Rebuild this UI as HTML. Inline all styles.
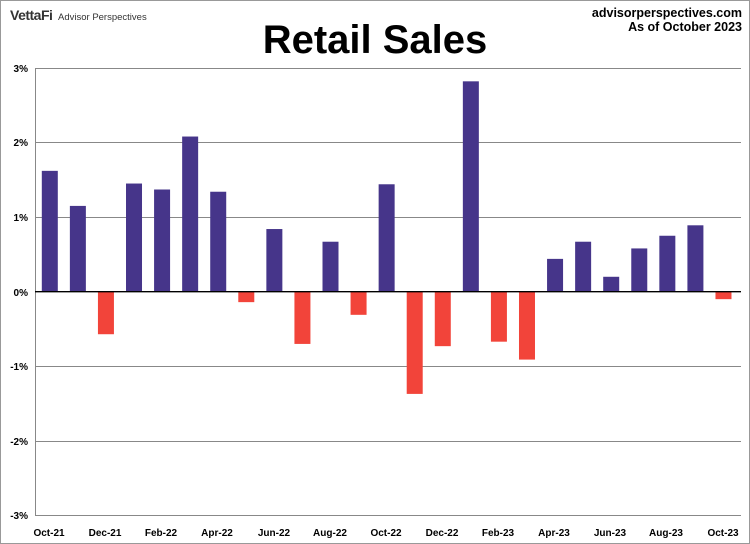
<!DOCTYPE html>
<html><head><style>
body{margin:0;background:#fff}
.w{position:relative;width:748px;height:542px;border:1px solid #999;font-family:"Liberation Sans",sans-serif;overflow:hidden}
</style></head><body><div class="w">
<svg width="748" height="542" style="position:absolute;left:0;top:0" font-family="Liberation Sans, sans-serif">
<text x="9" y="19" font-size="14" font-weight="bold" fill="#333" letter-spacing="-0.5">VettaFi</text>
<text x="57" y="19" font-size="9.5" fill="#333">Advisor Perspectives</text>
<text x="741" y="16" font-size="12.5" font-weight="bold" text-anchor="end">advisorperspectives.com</text>
<text x="741" y="30" font-size="12.5" font-weight="bold" text-anchor="end">As of October 2023</text>
<text x="374" y="52" font-size="40" font-weight="bold" text-anchor="middle">Retail Sales</text>
<g stroke="#888" stroke-width="1">
<line x1="34" y1="67.5" x2="740" y2="67.5"/>
<line x1="34" y1="141.5" x2="740" y2="141.5"/>
<line x1="34" y1="216.5" x2="740" y2="216.5"/>
<line x1="34" y1="365.5" x2="740" y2="365.5"/>
<line x1="34" y1="440.5" x2="740" y2="440.5"/>
<line x1="34" y1="514.5" x2="740" y2="514.5"/>
<line x1="34.5" y1="67" x2="34.5" y2="515"/>
</g>
<g font-size="10" font-weight="bold" text-anchor="end" fill="#000">
<text x="27" y="71">3%</text><text x="27" y="145">2%</text><text x="27" y="220">1%</text>
<text x="27" y="295">0%</text><text x="27" y="369">-1%</text><text x="27" y="444">-2%</text><text x="27" y="518">-3%</text>
</g>
<g id="bars"></g>
<line x1="34" y1="290.7" x2="740" y2="290.7" stroke="#000" stroke-width="1.3"/>
<g font-size="10" font-weight="bold" text-anchor="middle">
<text x="48" y="535">Oct-21</text><text x="104" y="535">Dec-21</text><text x="160" y="535">Feb-22</text>
<text x="216" y="535">Apr-22</text><text x="273" y="535">Jun-22</text><text x="329" y="535">Aug-22</text>
<text x="385" y="535">Oct-22</text><text x="441" y="535">Dec-22</text><text x="497" y="535">Feb-23</text>
<text x="553" y="535">Apr-23</text><text x="609" y="535">Jun-23</text><text x="665" y="535">Aug-23</text>
<text x="722" y="535">Oct-23</text>
</g>
</svg>
<script>
var v=[1.62,1.15,-0.57,1.45,1.37,2.08,1.34,-0.14,0.84,-0.7,0.67,-0.31,1.44,-1.37,-0.73,2.82,-0.67,-0.91,0.44,0.67,0.2,0.58,0.75,0.89,-0.1];
var g=document.getElementById('bars'),s='';
v.forEach(function(d,i){var cx=48.8+i*28.07,h=Math.abs(d)*74.6,y=d>0?290.7-h:290.7;
s+='<rect x="'+(cx-8)+'" y="'+y+'" width="16" height="'+h+'" fill="'+(d>0?'#46358a':'#f2443a')+'"/>';});
g.innerHTML=s;
</script>
</div></body></html>
